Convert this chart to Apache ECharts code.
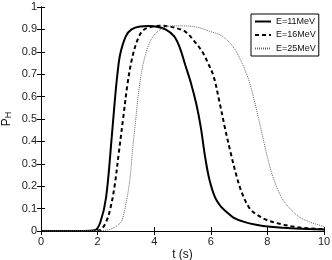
<!DOCTYPE html>
<html><head><meta charset="utf-8">
<script src="https://cdn.jsdelivr.net/npm/echarts@6/dist/echarts.min.js"></script>
<style>html,body{margin:0;padding:0;background:#fff}#c{width:332px;height:260px}</style>
</head><body><div id="c"></div>
<script>
var seriesNames = ['E=11MeV', 'E=16MeV', 'E=25MeV'];
var xTicks = [0, 2, 4, 6, 8, 10];
var yTicks = [0, 0.1, 0.2, 0.3, 0.4, 0.5, 0.6, 0.7, 0.8, 0.9, 1];

var t11 = [0, 1.5, 1.9, 2.1, 2.3, 2.5, 2.6, 2.7, 2.8, 3.0, 3.2, 3.5, 3.8, 4.1, 4.4, 4.7, 4.9, 5.1, 5.3, 5.5, 5.65, 5.8, 5.95, 6.15, 6.35, 6.56, 6.8, 7.15, 7.6, 8.1, 9.0, 10];
var p11 = [0, 0, 0.003, 0.04, 0.15, 0.42, 0.57, 0.70, 0.79, 0.87, 0.90, 0.913, 0.915, 0.912, 0.90, 0.87, 0.82, 0.74, 0.66, 0.56, 0.46, 0.33, 0.23, 0.15, 0.11, 0.085, 0.06, 0.042, 0.028, 0.019, 0.011, 0.007];

var t16 = [0, 1.9, 2.1, 2.3, 2.45, 2.6, 2.75, 2.9, 3.05, 3.2, 3.4, 3.6, 3.9, 4.2, 4.5, 4.8, 5.1, 5.4, 5.7, 5.9, 6.1, 6.3, 6.5, 6.7, 6.9, 7.1, 7.35, 7.6, 8.0, 8.5, 9.0, 9.5, 10];
var p16 = [0, 0, 0.005, 0.04, 0.1, 0.2, 0.35, 0.5, 0.65, 0.76, 0.85, 0.895, 0.912, 0.916, 0.914, 0.905, 0.89, 0.85, 0.8, 0.75, 0.69, 0.58, 0.46, 0.35, 0.25, 0.17, 0.105, 0.075, 0.048, 0.03, 0.018, 0.012, 0.008];

var t25 = [0, 2.2, 2.5, 2.7, 2.85, 3.0, 3.14, 3.25, 3.35, 3.45, 3.6, 3.8, 4.0, 4.3, 4.6, 5.0, 5.5, 6.0, 6.4, 6.8, 7.1, 7.35, 7.6, 7.8, 8.0, 8.2, 8.5, 8.8, 9.1, 9.5, 10];
var p25 = [0, 0.002, 0.01, 0.025, 0.045, 0.12, 0.23, 0.38, 0.5, 0.62, 0.74, 0.83, 0.875, 0.905, 0.915, 0.916, 0.91, 0.89, 0.87, 0.82, 0.75, 0.67, 0.55, 0.44, 0.33, 0.24, 0.15, 0.1, 0.065, 0.04, 0.02];

function pairs(t, p) { return t.map(function (v, i) { return [v, p[i]]; }); }

var font = 'Liberation Sans, Arial, sans-serif';
var axisLabelStyle = { fontSize: 11, color: '#222', fontFamily: font };
var chart = echarts.init(document.getElementById('c'), null, { renderer: 'canvas' });
chart.setOption({
  animation: false,
  backgroundColor: '#fff',
  grid: { left: 41, right: 8, top: 7, bottom: 29, containLabel: false, outerBoundsMode: 'none' },
  legend: {
    orient: 'vertical', left: 251, top: 14,
    borderColor: '#000', borderWidth: 1, padding: [3, 3, 3, 3],
    itemWidth: 16, itemHeight: 8, itemGap: 4.5,
    itemStyle: { opacity: 0 },
    textStyle: { fontSize: 9, color: '#111', fontFamily: font },
    data: seriesNames
  },
  xAxis: [{
    type: 'value', min: 0, max: 10, interval: 2,
    name: 't (s)', nameLocation: 'middle', nameGap: 18, nameMoveOverlap: false,
    nameTextStyle: { fontSize: 12, color: '#111', fontFamily: font, verticalAlign: 'top' },
    axisLine: { show: true, lineStyle: { color: '#000', width: 1 } },
    axisTick: { inside: true, length: 4, lineStyle: { color: '#000' } },
    axisLabel: Object.assign({ margin: 5 }, axisLabelStyle),
    splitLine: { show: false }
  }, {
    type: 'value', min: 0, max: 10, interval: 2, position: 'top',
    axisLine: { show: true, lineStyle: { color: '#000', width: 1 } },
    axisTick: { inside: true, length: 4, lineStyle: { color: '#000' } },
    axisLabel: { show: false }, splitLine: { show: false }
  }],
  yAxis: [{
    type: 'value', min: 0, max: 1, interval: 0.1,
    name: '{p|P}{h|H}', nameLocation: 'middle', nameGap: 28, nameRotate: 90, nameMoveOverlap: false,
    nameTextStyle: {
      fontFamily: font, color: '#111',
      rich: {
        p: { fontSize: 12, fontFamily: font, color: '#111', verticalAlign: 'bottom', lineHeight: 14 },
        h: { fontSize: 9, fontFamily: font, color: '#111', padding: [6, 0, 0, 0], lineHeight: 14 }
      }
    },
    axisLine: { show: true, lineStyle: { color: '#000', width: 1 } },
    axisTick: { inside: true, length: 4, lineStyle: { color: '#000' } },
    axisLabel: Object.assign({ margin: 4, formatter: function (v) { return String(Math.round(v * 10) / 10); } }, axisLabelStyle),
    splitLine: { show: false }
  }, {
    type: 'value', min: 0, max: 1, interval: 0.1, position: 'right',
    axisLine: { show: true, lineStyle: { color: '#000', width: 1 } },
    axisTick: { inside: true, length: 4, lineStyle: { color: '#000' } },
    axisLabel: { show: false }, splitLine: { show: false }
  }],
  series: [{
    name: seriesNames[0], type: 'line', data: pairs(t11, p11),
    symbol: 'none', smooth: 0.35,
    itemStyle: { color: '#000' },
    lineStyle: { color: '#000', width: 2, type: 'solid' }
  }, {
    name: seriesNames[1], type: 'line', data: pairs(t16, p16),
    symbol: 'none', smooth: 0.35,
    itemStyle: { color: '#000' },
    lineStyle: { color: '#000', width: 2, type: [4, 3] }
  }, {
    name: seriesNames[2], type: 'line', data: pairs(t25, p25),
    symbol: 'none', smooth: 0.35,
    itemStyle: { color: '#666' },
    lineStyle: { color: '#666', width: 1, type: [1, 1] }
  }]
});
</script></body></html>
